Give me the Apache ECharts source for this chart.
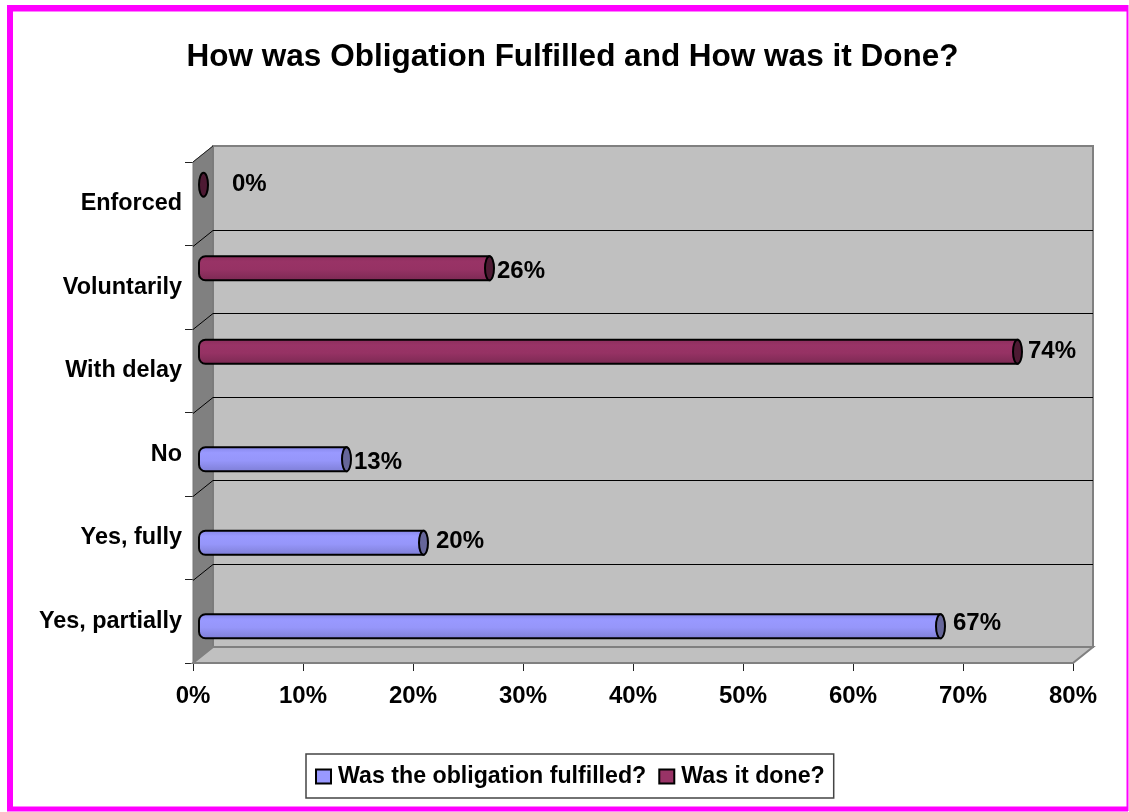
<!DOCTYPE html>
<html><head><meta charset="utf-8">
<style>html,body{margin:0;padding:0;background:#fff}#c{width:1129px;height:812px}</style>
<script src="https://cdn.jsdelivr.net/npm/echarts@6/dist/echarts.min.js"></script>
</head><body><div id="c"></div>
<script>
const titleText = 'How was Obligation Fulfilled and How was it Done?';
const categories = ['Yes, partially', 'Yes, fully', 'No', 'With delay', 'Voluntarily', 'Enforced'];
const fulfilled = [67, 20, 13, null, null, null];
const done = [null, null, null, 74, 26, 0];
const seriesNames = ['Was the obligation fulfilled?', 'Was it done?'];
const tickStep = 10;
const axisMax = 80;

const FONT = '"Liberation Sans", Arial, sans-serif';
const DX = 20, DY = -16;           // depth of the 3D box
const BAR_DX = 10.5, BAR_DY = -7;  // bars sit mid-depth
const BAR_H = 24;
// hand-placed label nudges of the original, per category
const labelNudge = {
  'Yes, partially': [12, -3], 'Yes, fully': [12, -1], 'No': [7, 3],
  'With delay': [10, 0], 'Voluntarily': [7, 3], 'Enforced': [28, 0]
};

const chart = echarts.init(document.getElementById('c'), null, {renderer: 'canvas'});

function renderWalls(params, api) {
  const r = params.coordSys;
  const L = r.x, T = r.y, R = r.x + r.width, B = r.y + r.height;
  const step = r.height / categories.length;
  const kids = [];
  const line = (x1, y1, x2, y2, stroke, w) => ({type: 'line', shape: {x1, y1, x2, y2}, style: {stroke, lineWidth: w}});
  kids.push({type: 'rect', shape: {x: L + DX, y: T + DY, width: r.width, height: r.height},
    style: {fill: '#c0c0c0', stroke: '#808080', lineWidth: 2}});
  kids.push({type: 'polygon', shape: {points: [[L, T], [L + DX, T + DY], [L + DX, B + DY], [L, B]]},
    style: {fill: '#808080', stroke: '#777', lineWidth: 1}});
  kids.push({type: 'polygon', shape: {points: [[L, B], [L + DX, B + DY], [R + DX, B + DY], [R, B]]},
    style: {fill: '#c0c0c0', stroke: '#808080', lineWidth: 2}});
  for (let i = 1; i < categories.length; i++) {
    const y = Math.round(T + step * i) + 0.5;
    kids.push(line(L, y, L + DX, y + DY, '#000', 1));
    kids.push(line(L + DX, y + DY, R + DX, y + DY, '#000', 1));
  }
  kids.push(line(L, T, L + DX, T + DY, '#222', 1));
  return {type: 'group', children: kids};
}

function cylinderItem(fillStops, capColor) {
  return function (params, api) {
    const idx = api.value(0);
    const val = api.value(1);
    if (val === null || isNaN(val)) return null;
    const seriesOffset = params.seriesIndex === 1 ? 1 : -1;
    const start = api.coord([0, idx]);
    const end = api.coord([val, idx]);
    const yC = start[1] + BAR_DY;
    const cy = seriesOffset > 0 ? yC - BAR_H / 2 : yC + BAR_H / 2;
    const x0 = start[0] + BAR_DX, x1 = end[0] + BAR_DX;
    const rx = 4.5, ry = BAR_H / 2;
    const name = categories[idx];
    const n = labelNudge[name] || [10, 0];
    const kids = [];
    const bodyFill = {type: 'linear', x: 0, y: 0, x2: 0, y2: 1, colorStops: fillStops};
    if (val > 0) {
      kids.push({type: 'rect', shape: {x: x0 - rx, y: cy - ry, width: x1 - x0 + rx, height: BAR_H, r: [rx + 2, 0, 0, rx + 2]},
        style: {fill: bodyFill, stroke: '#000', lineWidth: 2}});
    }
    kids.push({type: 'ellipse', shape: {cx: x1, cy: cy, rx: rx, ry: ry},
      style: {fill: capColor, stroke: '#000', lineWidth: 2}});
    kids.push({type: 'text', style: {
      text: val + '%', x: x1 + rx + n[0] - 4, y: cy + n[1], align: 'left', verticalAlign: 'middle',
      font: 'bold 24px ' + FONT, fill: '#000'}});
    return {type: 'group', children: kids};
  };
}

const toData = arr => arr.map((v, i) => [i, v]);

const border = [
  [7, 5, 1121, 6.5], [7, 806.5, 1121, 5], [7, 5, 6, 806], [1126.5, 5, 2, 806]
].map(b => ({type: 'rect', silent: true, z: 100,
  shape: {x: b[0], y: b[1], width: b[2], height: b[3]}, style: {fill: '#ff00ff'}}));

chart.setOption({
  animation: false,
  backgroundColor: '#fff',
  textStyle: {fontFamily: FONT},
  title: {text: titleText, left: 572, top: 36, textAlign: 'center',
    textStyle: {fontFamily: FONT, fontWeight: 'bold', fontSize: 31.5, color: '#000'}},
  grid: {left: 193, top: 162, width: 880, height: 501, containLabel: false},
  xAxis: {type: 'value', min: 0, max: axisMax, interval: tickStep, splitLine: {show: false},
    axisLine: {show: true, lineStyle: {color: '#222', width: 1}},
    axisTick: {show: true, length: 8, lineStyle: {color: '#222', width: 1}},
    axisLabel: {formatter: '{value}%', margin: 21, fontFamily: FONT, fontWeight: 'bold', fontSize: 24, color: '#000', showMinLabel: true, showMaxLabel: true, hideOverlap: false}},
  yAxis: {type: 'category', data: categories, 
    axisLine: {show: true, lineStyle: {color: '#222', width: 1}},
    axisTick: {show: true, length: 8, alignWithLabel: false, lineStyle: {color: '#222', width: 1}},
    axisLabel: {margin: 11, fontFamily: FONT, fontWeight: 'bold', fontSize: 23.4, color: '#000', interval: 0}},
  legend: {
    show: true, data: seriesNames, left: 306, top: 754, 
    orient: 'horizontal', itemGap: 12, padding: [11, 9, 10, 9], itemWidth: 15, itemHeight: 14,
    backgroundColor: '#fff', borderColor: '#444', borderWidth: 1.5, icon: 'rect', selectedMode: false,
    textStyle: {fontFamily: FONT, fontWeight: 'bold', fontSize: 23.2, color: '#000', padding: [0, 0, 0, 2]}
  },
  series: [
    {type: 'custom', name: seriesNames[0], z: 3, itemStyle: {color: '#9999ff', borderColor: '#000', borderWidth: 2}, clip: false,
     renderItem: cylinderItem([{offset: 0, color: '#8585e6'}, {offset: 0.25, color: '#9999ff'}, {offset: 0.55, color: '#9696fa'}, {offset: 1, color: '#7d7dd4'}], '#666699'),
     data: toData(fulfilled), encode: {x: 1, y: 0}},
    {type: 'custom', name: seriesNames[1], z: 3, itemStyle: {color: '#993366', borderColor: '#000', borderWidth: 2}, clip: false,
     renderItem: cylinderItem([{offset: 0, color: '#8a2e5c'}, {offset: 0.25, color: '#993366'}, {offset: 0.55, color: '#963264'}, {offset: 1, color: '#7a2952'}], '#4d1a33'),
     data: toData(done), encode: {x: 1, y: 0}},
    {type: 'custom', name: 'walls', z: 1, silent: true, clip: false, renderItem: renderWalls, data: [[0, 0]], encode: {x: 1, y: 0}}
  ],
  graphic: border
});
chart.setOption({title: {left: 567.5}});
</script></body></html>
